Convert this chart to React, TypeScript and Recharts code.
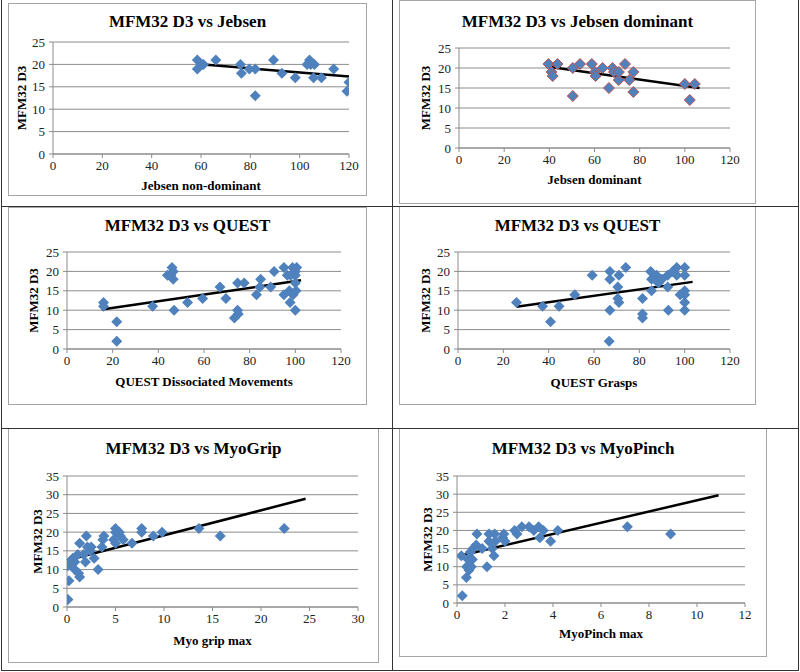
import { ScatterChart, Scatter, XAxis, YAxis, CartesianGrid, ReferenceLine } from "recharts";

// values, [x, y]
const jebsenNonDominant: [number, number][] = [
  [58.5, 21], [58.5, 19], [60.3, 20], [61, 20], [66, 21], [76, 20], [76.4, 18], [79.6, 19],
  [82, 19], [82, 13], [89.4, 21], [92.8, 18], [98.2, 17], [103, 20], [104, 21], [104.5, 20],
  [106, 20], [105.6, 17], [108.8, 17], [113.8, 19], [119.2, 14], [120, 16],
];
const jebsenNonDominantTrend: [number, number][] = [[58.5, 20.1], [120, 17.3]];

const jebsenDominant: [number, number][] = [
  [39.6, 21], [41, 19], [41.5, 18], [43.6, 21], [50.4, 20], [50.4, 13], [53.6, 21], [58.8, 21],
  [60.2, 19], [60.5, 18], [63.6, 20], [66.4, 15], [68, 20], [68.6, 19], [70.7, 17], [70.8, 19],
  [73.5, 21], [75.4, 17], [77.2, 19], [77.2, 14], [100, 16], [102.2, 12], [104.4, 16],
];
const jebsenDominantTrend: [number, number][] = [[39.6, 20.3], [106.5, 15]];

const questDissociated: [number, number][] = [
  [16, 12], [16, 11], [21.8, 7], [21.8, 2], [37.5, 11], [44, 19], [45.5, 19], [46, 21], [46.5, 20],
  [46.5, 18], [46.9, 10], [52.8, 12], [59.4, 13], [67, 16], [69.6, 13], [73.3, 8], [74.7, 10],
  [75, 9], [74.7, 17], [77.6, 17], [83, 14], [84.8, 18], [84.5, 16], [89.2, 16], [90.7, 20],
  [95, 14], [95, 21], [96.5, 19], [97.4, 15], [97.7, 12], [98, 19], [99, 14], [98.8, 21],
  [100, 20], [100.6, 21], [100, 10], [100.3, 15], [100, 17], [100, 19],
];
const questDissociatedTrend: [number, number][] = [[15.2, 10.2], [102.5, 17.7]];

const questGrasps: [number, number][] = [
  [25.8, 12], [37.3, 11], [40.8, 7], [44.6, 11], [51.5, 14], [59.2, 19], [67, 20], [67, 18],
  [67, 10], [66.7, 2], [71, 19], [71, 12], [70.5, 16], [70.5, 13], [74, 21], [81.4, 13],
  [81.4, 9], [81.4, 8], [85, 20], [85.4, 18], [85.4, 15], [87.6, 19], [88.4, 17], [90, 18],
  [92.8, 10], [92.5, 16], [92.5, 19], [94.7, 20], [96.5, 21], [96.5, 19], [98, 14], [100, 21],
  [100, 19], [100, 15], [100, 14], [100, 12], [100, 10],
];
const questGraspsTrend: [number, number][] = [[25.8, 10.9], [103.5, 17.3]];

const myoGrip: [number, number][] = [
  [0.1, 2], [0.2, 7], [0.1, 11], [0.3, 12], [0.6, 13], [0.8, 10], [0.8, 12], [1.2, 9], [1.3, 8],
  [1.3, 17], [1.1, 14], [1.7, 14], [1.9, 12], [2, 19], [2.1, 16], [2.4, 15], [2.5, 16], [2.8, 13],
  [3.2, 10], [3.6, 16], [3.7, 18], [3.8, 19], [5, 21], [5, 20], [4.8, 18], [5, 17], [5.4, 20],
  [5.5, 19], [5.8, 18], [6.7, 17], [7.7, 21], [7.7, 20], [8.9, 19], [9.8, 20], [13.6, 21],
  [15.8, 19], [22.4, 21],
];
const myoGripTrend: [number, number][] = [[0, 12.5], [24.6, 28.9]];

const myoPinch: [number, number][] = [
  [0.22, 2], [0.39, 7], [0.18, 13], [0.4, 10], [0.46, 12], [0.5, 9], [0.6, 10], [0.64, 12],
  [0.55, 14], [0.67, 15], [0.8, 16], [0.83, 19], [1.05, 15], [1.25, 10], [1.33, 19], [1.33, 17],
  [1.47, 15], [1.54, 13], [1.57, 19], [1.6, 17], [1.9, 18], [1.95, 19], [2, 17], [2.4, 20],
  [2.5, 19], [2.7, 21], [3, 21], [3.2, 20], [3.4, 21], [3.45, 18], [3.6, 20], [3.9, 17],
  [4.2, 20], [7.1, 21], [8.9, 19],
];
const myoPinchTrend: [number, number][] = [[0.18, 13.1], [10.9, 29.7]];

const ticks0to120 = [0, 20, 40, 60, 80, 100, 120];
const ticks0to25 = [0, 5, 10, 15, 20, 25];
const ticks0to35 = [0, 5, 10, 15, 20, 25, 30, 35];
const ticks0to30 = [0, 5, 10, 15, 20, 25, 30];
const ticks0to12 = [0, 2, 4, 6, 8, 10, 12];

const FONT = '"Liberation Serif", "DejaVu Serif", serif';
const BLUE = "#4f81bd";
const GRID = "#8c8c8c";

const diamond = (stroke?: string) => (props: any) => {
  const { cx, cy } = props;
  if (cx == null || cy == null) return <g />;
  const r = 5.5;
  return (
    <polygon
      points={`${cx},${cy - r} ${cx + r},${cy} ${cx},${cy + r} ${cx - r},${cy}`}
      fill={BLUE}
      stroke={stroke ?? "none"}
      strokeWidth={1}
    />
  );
};

const toPts = (a: [number, number][]) => a.map(([x, y]) => ({ x, y }));

// layout: box in page px, plot edges relative to the inner box
const panels = [
  {
    title: "MFM32 D3 vs Jebsen", xLabel: "Jebsen non-dominant",
    box: { x: 8, y: 3, w: 359, h: 193 }, plot: { l: 44, r: 340, t: 38, b: 150 },
    titleY: 18, xLabelY: 181, yLabelX: 12,
    xTicks: ticks0to120, yTicks: ticks0to25, pts: jebsenNonDominant, trend: jebsenNonDominantTrend,
  },
  {
    title: "MFM32 D3 vs Jebsen dominant", xLabel: "Jebsen dominant",
    box: { x: 399, y: 0, w: 357, h: 204 }, plot: { l: 59, r: 330, t: 47, b: 147 },
    titleY: 21, xLabelY: 178, yLabelX: 25,
    xTicks: ticks0to120, yTicks: ticks0to25, pts: jebsenDominant, trend: jebsenDominantTrend,
    outline: "#c0504d",
  },
  {
    title: "MFM32 D3 vs QUEST", xLabel: "QUEST Dissociated Movements",
    box: { x: 8, y: 207, w: 359, h: 198 }, plot: { l: 58, r: 332, t: 44, b: 141 },
    titleY: 18, xLabelY: 173, yLabelX: 24,
    xTicks: ticks0to120, yTicks: ticks0to25, pts: questDissociated, trend: questDissociatedTrend,
  },
  {
    title: "MFM32 D3 vs QUEST", xLabel: "QUEST Grasps",
    box: { x: 399, y: 206, w: 357, h: 199 }, plot: { l: 58, r: 330, t: 45, b: 142 },
    titleY: 19, xLabelY: 175, yLabelX: 25,
    xTicks: ticks0to120, yTicks: ticks0to25, pts: questGrasps, trend: questGraspsTrend,
  },
  {
    title: "MFM32 D3 vs MyoGrip", xLabel: "Myo grip max",
    box: { x: 8, y: 428, w: 371, h: 235 }, plot: { l: 58, r: 349, t: 47, b: 178 },
    titleY: 20, xLabelY: 211, yLabelX: 28,
    xTicks: ticks0to30, yTicks: ticks0to35, pts: myoGrip, trend: myoGripTrend,
  },
  {
    title: "MFM32 D3 vs MyoPinch", xLabel: "MyoPinch max",
    box: { x: 399, y: 428, w: 368, h: 229 }, plot: { l: 57, r: 345, t: 47, b: 174 },
    titleY: 20, xLabelY: 204, yLabelX: 27,
    xTicks: ticks0to12, yTicks: ticks0to35, pts: myoPinch, trend: myoPinchTrend,
  },
];

function Panel({ p }: { p: (typeof panels)[number] }) {
  const w = p.box.w - 2;
  const h = p.box.h - 2;
  const xAxisH = h - p.plot.b;
  const tick = { fontSize: 13, fill: "#222", fontFamily: FONT };
  return (
    <div
      style={{
        position: "absolute", left: p.box.x, top: p.box.y, width: p.box.w, height: p.box.h,
        border: "1px solid #a6a6a6", boxSizing: "border-box", background: "#fff",
      }}
    >
      <div
        style={{
          position: "absolute", left: 0, width: "100%", top: p.titleY - 11, lineHeight: "22px",
          textAlign: "center", fontWeight: "bold", fontSize: 17, fontFamily: FONT,
        }}
      >
        {p.title}
      </div>
      <ScatterChart width={w} height={h} margin={{ top: p.plot.t, right: w - p.plot.r, bottom: 0, left: 0 }}>
        <CartesianGrid vertical={false} stroke={GRID} />
        <XAxis
          type="number" dataKey="x" domain={[p.xTicks[0], p.xTicks[p.xTicks.length - 1]]} ticks={p.xTicks}
          interval={0} height={xAxisH} tick={tick} tickSize={4} tickMargin={3} stroke={GRID} allowDataOverflow
          label={{
            value: p.xLabel, position: "insideBottom", offset: h - p.xLabelY - 4.5,
            style: { fontSize: 13, fontWeight: "bold", fill: "#000", fontFamily: FONT },
          }}
        />
        <YAxis
          type="number" dataKey="y" domain={[p.yTicks[0], p.yTicks[p.yTicks.length - 1]]} ticks={p.yTicks}
          interval={0} width={p.plot.l} tick={tick} tickSize={4} tickMargin={4} stroke={GRID} allowDataOverflow
          label={{
            value: "MFM32 D3", angle: -90, position: "insideLeft", offset: p.yLabelX,
            style: { fontSize: 13, fontWeight: "bold", fill: "#000", fontFamily: FONT, textAnchor: "middle" },
          }}
        />
        <Scatter data={toPts(p.pts)} shape={diamond(p.outline)} isAnimationActive={false} />
        <ReferenceLine
          segment={toPts(p.trend)}
          stroke="#000" strokeWidth={2.5}
        />
      </ScatterChart>
    </div>
  );
}

const line = (l: number, t: number, w: number, h: number) => (
  <div style={{ position: "absolute", left: l, top: t, width: w, height: h, background: "#333" }} />
);

export default function App() {
  return (
    <div style={{ position: "absolute", left: 0, top: 0, width: 800, height: 672, background: "#fff", fontFamily: FONT }}>
      {panels.map((p, i) => (
        <Panel key={i} p={p} />
      ))}
      {line(1, 0, 1, 671)}
      {line(392, 0, 1, 671)}
      {line(798, 0, 1, 671)}
      {line(1, 206, 798, 1)}
      {line(1, 428, 798, 1)}
      {line(1, 670, 798, 1)}
    </div>
  );
}
